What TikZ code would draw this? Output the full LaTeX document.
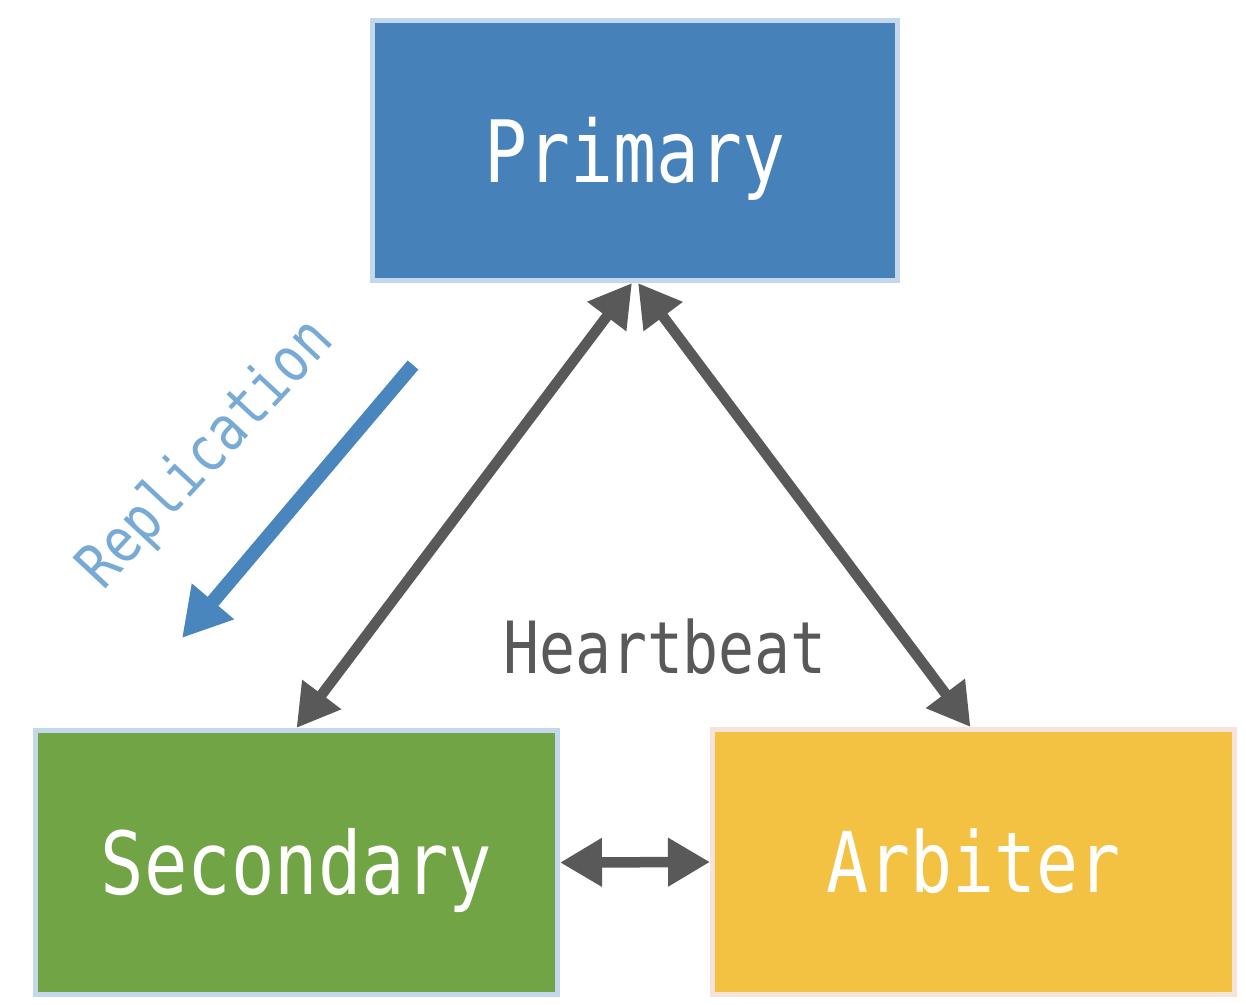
\documentclass[tikz,border=0pt]{standalone}
\usepackage{fontspec}
\newfontfamily\diafont[FakeStretch=0.83]{DejaVu Sans Mono}
\usetikzlibrary{arrows.meta,calc}
\definecolor{pblue}{HTML}{4682B9}
\definecolor{sgreen}{HTML}{70A444}
\definecolor{ayellow}{HTML}{F3C243}
\definecolor{bordblue}{HTML}{C3D8EC}
\definecolor{bordpink}{HTML}{F6E4DA}
\definecolor{hbgray}{HTML}{595959}
\definecolor{repblue}{HTML}{4A86BE}
\definecolor{reptext}{HTML}{78AAD6}
\begin{document}
\begin{tikzpicture}[x=1pt,y=-1pt,
  nodebox/.style={rectangle, draw, line width=5pt, inner sep=0pt, text=white, text depth=0pt},
  hbarrow/.style={draw=hbgray, line width=10.5pt, {Triangle[length=42pt,width=46pt]}-{Triangle[length=42pt,width=46pt]}},
  reparrow/.style={draw=repblue, line width=14pt, -{Triangle[length=48pt,width=52pt]}}
]
\fill[white] (0,0) rectangle (1246,1004);
\useasboundingbox (0,0) rectangle (1246,1004);

\node[nodebox, fill=pblue, draw=bordblue, minimum width=525pt, minimum height=260pt,
  text height=63pt, font=\diafont\fontsize{86pt}{86pt}\selectfont] (P) at (635,150.5) {Primary};
\node[nodebox, fill=sgreen, draw=bordblue, minimum width=522pt, minimum height=264pt,
  text height=63pt, font=\diafont\fontsize{87pt}{87pt}\selectfont] (S) at (296.5,862.5) {Secondary};
\node[nodebox, fill=ayellow, draw=bordpink, minimum width=522pt, minimum height=265pt,
  text height=61pt, font=\diafont\fontsize{84pt}{84pt}\selectfont] (A) at (973.5,862) {Arbiter};

\draw[hbarrow] ($(P.south)+(-3,0)$) -- (S.north);
\draw[hbarrow] ($(P.south)+(3,0)$) -- ($(A.north)+(-3,0)$);
\draw[hbarrow] (S.east) -- (A.west);

\node[anchor=base, text=hbgray, font=\diafont\fontsize{72pt}{72pt}\selectfont] (hb) at (665,673) {Heartbeat};

\coordinate (r1) at (413,365);
\coordinate (r2) at (182,638);
\draw[reparrow] (r1) -- (r2);
\node[rotate=47, text=reptext, font=\diafont\fontsize{62pt}{62pt}\selectfont] (rep) at (207,455) {Replication};
\end{tikzpicture}
\end{document}
